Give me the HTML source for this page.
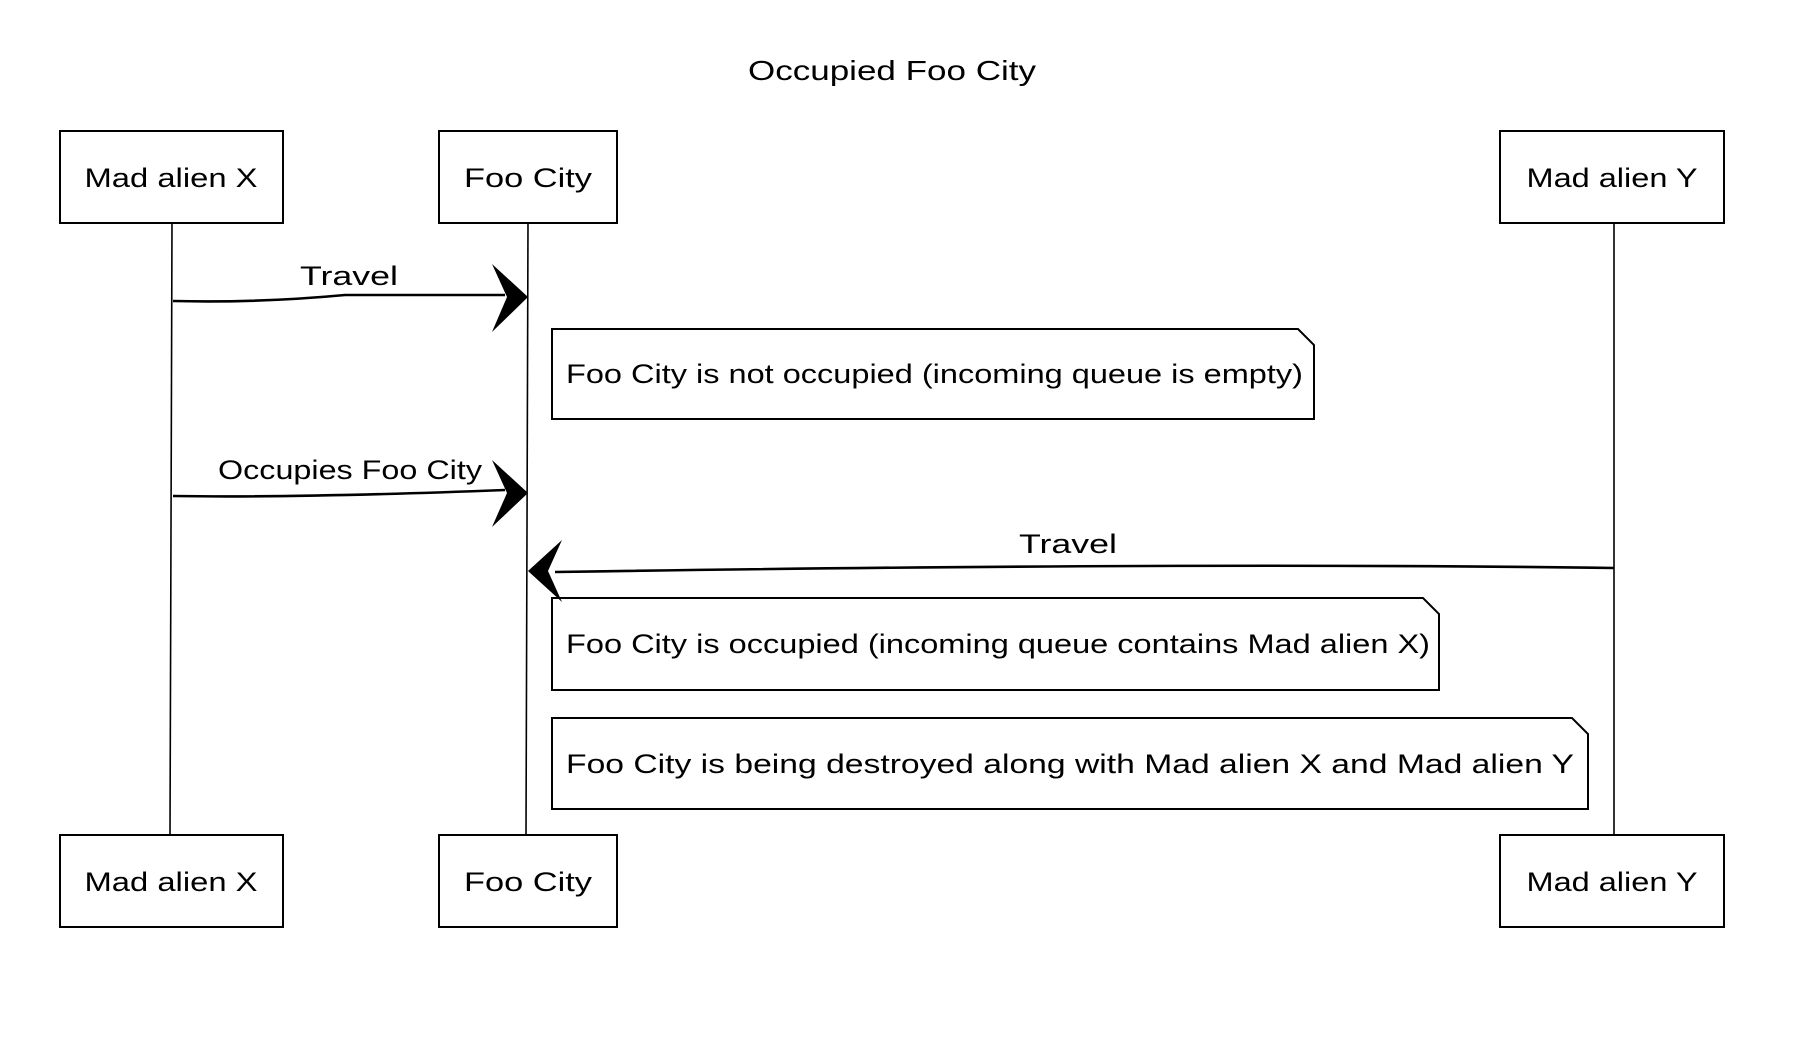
<!DOCTYPE html>
<html><head><meta charset="utf-8"><style>
html,body{margin:0;padding:0;background:#fff;}
svg{display:block;}
text{font-family:"Liberation Sans",sans-serif;fill:#000;}
</style></head><body>
<svg width="1810" height="1044" viewBox="0 0 1810 1044" xmlns="http://www.w3.org/2000/svg">
<text x="892" y="80" font-size="28" text-anchor="middle" textLength="288" lengthAdjust="spacingAndGlyphs">Occupied Foo City</text>
<g fill="none" stroke="#000" stroke-width="1.6">
<line x1="172" y1="223" x2="170" y2="835"/>
<line x1="528" y1="223" x2="526" y2="835"/>
<line x1="1614" y1="223" x2="1614" y2="835"/>
<g stroke-width="2">
<rect x="60" y="131" width="223" height="92"/>
<rect x="439" y="131" width="178" height="92"/>
<rect x="1500" y="131" width="224" height="92"/>
<rect x="60" y="835" width="223" height="92"/>
<rect x="439" y="835" width="178" height="92"/>
<rect x="1500" y="835" width="224" height="92"/>
<path d="M552 329 H1298 L1314 345 V419 H552 Z"/>
<path d="M552 598 H1423 L1439 614 V690 H552 Z"/>
<path d="M552 718 H1572 L1588 734 V809 H552 Z"/>
</g>
<g stroke-width="2.6">
<path d="M173 301 Q260 303 345 295 L505 295"/>
<path d="M173 496 Q300 498 505 490"/>
<path d="M1614 568 Q1200 562 555 572"/>
</g>
</g>
<g fill="#000">
<path d="M492 264 L528 297 L492 332 L507 297 Z"/>
<path d="M492 460 L528 493 L492 527 L507 493 Z"/>
<path d="M562 540 L528 571 L562 602 L548 571 Z"/>
</g>
<g font-size="27" text-anchor="middle" lengthAdjust="spacingAndGlyphs">
<text x="171" y="187" textLength="173" lengthAdjust="spacingAndGlyphs">Mad alien X</text>
<text x="528" y="187" textLength="128" lengthAdjust="spacingAndGlyphs">Foo City</text>
<text x="1612" y="187" textLength="171" lengthAdjust="spacingAndGlyphs">Mad alien Y</text>
<text x="171" y="891" textLength="173" lengthAdjust="spacingAndGlyphs">Mad alien X</text>
<text x="528" y="891" textLength="128" lengthAdjust="spacingAndGlyphs">Foo City</text>
<text x="1612" y="891" textLength="171" lengthAdjust="spacingAndGlyphs">Mad alien Y</text>
<text x="349" y="285" textLength="98" lengthAdjust="spacingAndGlyphs">Travel</text>
<text x="350" y="479" textLength="264" lengthAdjust="spacingAndGlyphs">Occupies Foo City</text>
<text x="1068" y="553" textLength="98" lengthAdjust="spacingAndGlyphs">Travel</text>
</g>
<g font-size="27">
<text x="566" y="383" textLength="737" lengthAdjust="spacingAndGlyphs">Foo City is not occupied (incoming queue is empty)</text>
<text x="566" y="653" textLength="864" lengthAdjust="spacingAndGlyphs">Foo City is occupied (incoming queue contains Mad alien X)</text>
<text x="566" y="773" textLength="1008" lengthAdjust="spacingAndGlyphs">Foo City is being destroyed along with Mad alien X and Mad alien Y</text>
</g>
</svg>
</body></html>
